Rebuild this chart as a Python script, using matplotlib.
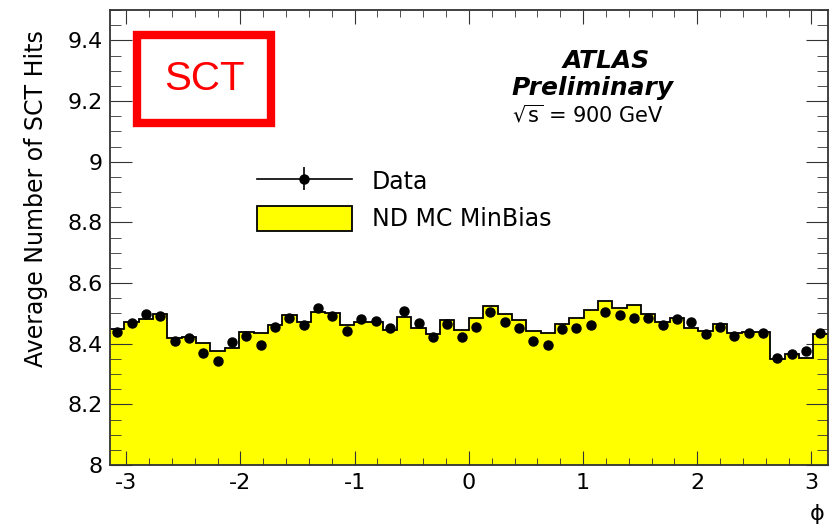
import numpy as np
import matplotlib
matplotlib.use("Agg")
import matplotlib.pyplot as plt
from matplotlib.patches import Rectangle
from matplotlib.lines import Line2D
from matplotlib.ticker import MultipleLocator

plt.rcParams['font.family'] = ['DejaVu Sans']
plt.rcParams['axes.unicode_minus'] = False

# average SCT hits per phi bin (50 bins from -pi to pi)
data_vals = [8.440, 8.468, 8.497, 8.490, 8.410, 8.418, 8.369, 8.343, 8.404, 8.426,
             8.396, 8.456, 8.486, 8.462, 8.519, 8.490, 8.442, 8.481, 8.475, 8.453,
             8.508, 8.468, 8.421, 8.465, 8.423, 8.454, 8.503, 8.470, 8.453, 8.410,
             8.396, 8.448, 8.453, 8.462, 8.503, 8.495, 8.486, 8.486, 8.462, 8.481,
             8.470, 8.432, 8.454, 8.426, 8.435, 8.435, 8.352, 8.366, 8.377, 8.435]
data_err = [0.003] * 50
mc_vals = [8.448, 8.470, 8.481, 8.497, 8.418, 8.423, 8.402, 8.376, 8.385, 8.438,
           8.435, 8.462, 8.495, 8.473, 8.506, 8.501, 8.462, 8.473, 8.473, 8.446,
           8.487, 8.451, 8.432, 8.479, 8.446, 8.484, 8.525, 8.497, 8.479, 8.443,
           8.435, 8.464, 8.486, 8.512, 8.542, 8.517, 8.528, 8.497, 8.473, 8.484,
           8.451, 8.443, 8.465, 8.435, 8.437, 8.437, 8.349, 8.366, 8.352, 8.432]

edges = np.linspace(-np.pi, np.pi, len(mc_vals) + 1)
centers = 0.5 * (edges[:-1] + edges[1:])

fig = plt.figure(figsize=(8.36, 5.27), dpi=100)
ax = fig.add_axes([0.1316, 0.1176, 0.8584, 0.8634])

ax.stairs(mc_vals, edges, baseline=8.0, fill=True, color='#ffff00', zorder=1)
ax.stairs(mc_vals, edges, baseline=None, color='black', linewidth=1.3, zorder=2)
eb = ax.errorbar(centers, data_vals, yerr=data_err, fmt='o', color='black',
                 markersize=6.5, elinewidth=1.2, capsize=0, zorder=3)

ax.set_xlim(-np.pi, np.pi)
ax.set_ylim(8.0, 9.5)
ax.xaxis.set_major_locator(MultipleLocator(1))
ax.xaxis.set_minor_locator(MultipleLocator(0.2))
ax.yaxis.set_minor_locator(MultipleLocator(0.05))
ax.set_yticks([8, 8.2, 8.4, 8.6, 8.8, 9, 9.2, 9.4])
ax.set_yticklabels(['8', '8.2', '8.4', '8.6', '8.8', '9', '9.2', '9.4'])
ax.tick_params(axis='both', which='both', direction='in', top=True, right=True,
               labelsize=16, color='#333333')
ax.tick_params(axis='x', which='major', length=10, pad=6)
ax.tick_params(axis='x', which='minor', length=5)
ax.tick_params(axis='y', which='major', length=16, pad=5)
ax.tick_params(axis='y', which='minor', length=8)
for s in ax.spines.values():
    s.set_linewidth(1.3)
    s.set_color('#333333')

ax.set_ylabel('Average Number of SCT Hits', fontsize=17, loc='top')
ax.yaxis.set_label_coords(-0.086, 0.956)
ax.set_xlabel('ϕ', fontsize=16, loc='right')
ax.xaxis.set_label_coords(0.996, -0.085)

# SCT box
ax.add_patch(Rectangle((0.038, 0.752), 0.186, 0.193, transform=ax.transAxes,
                       fill=False, edgecolor='#ff0000', linewidth=6, zorder=5))
ax.text(0.131, 0.849, 'SCT', transform=ax.transAxes, color='#ff0000',
        fontsize=29, ha='center', va='center', family='Liberation Sans')

ax.text(0.691, 0.888, 'ATLAS', transform=ax.transAxes, fontsize=18,
        fontweight='bold', fontstyle='italic', ha='center', va='center')
ax.text(0.673, 0.829, 'Preliminary', transform=ax.transAxes, fontsize=18,
        fontweight='bold', fontstyle='italic', ha='center', va='center')
ax.text(0.666, 0.769, r'$\sqrt{\mathrm{s}}$ = 900 GeV', transform=ax.transAxes,
        fontsize=15, ha='center', va='center')

h_line = Line2D([], [], color='black', linewidth=1.2)
h_mc = Rectangle((0, 0), 1, 1, facecolor='#ffff00', edgecolor='black', linewidth=1.3)
ax.legend([(h_line, eb), h_mc], ['Data', 'ND MC MinBias'], loc='upper left',
          bbox_to_anchor=(0.205, 0.652), frameon=False, fontsize=17,
          handlelength=4.0, handleheight=1.27, labelspacing=0.5,
          handletextpad=0.85, borderaxespad=0, borderpad=0)

fig.savefig('out.png', dpi=100)
